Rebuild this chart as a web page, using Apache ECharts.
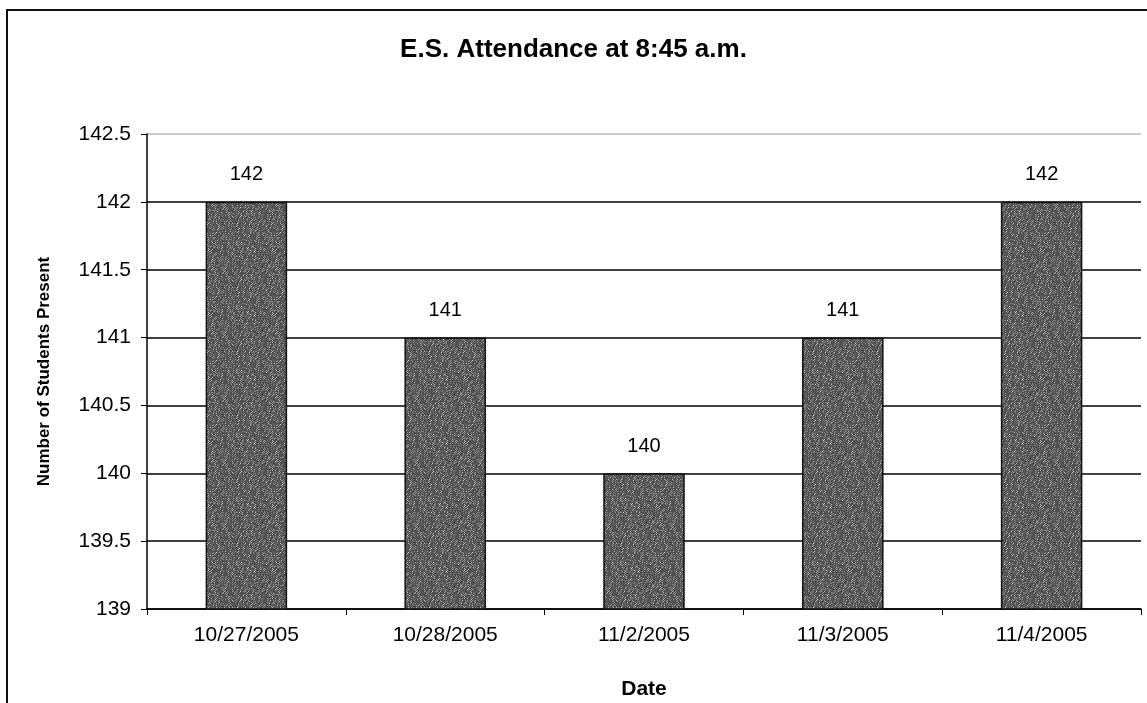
<!DOCTYPE html>
<html lang="en">
<head>
    <meta charset="UTF-8">
    <title>E.S. Attendance</title>
    <script src="https://cdn.jsdelivr.net/npm/echarts@6.0.0/dist/echarts.min.js"></script>
    <style>
        html, body { margin: 0; padding: 0; background: #fff; }
        #frame { position: absolute; left: 6px; top: 9px; width: 1150px; height: 720px; border: 2px solid #111; box-sizing: border-box; }
        #chart { position: absolute; left: 0; top: 0; width: 1147px; height: 703px; }
    </style>
</head>
<body>
    <div id="frame"></div>
    <div id="chart"></div>
    <script type="text/javascript">
        // Data
        const dates = ['10/27/2005', '10/28/2005', '11/2/2005', '11/3/2005', '11/4/2005'];
        const studentsPresent = [142, 141, 140, 141, 142];

        const chart = echarts.init(document.getElementById('chart'));
        const font = '"Liberation Sans", Arial, sans-serif';

        // speckled grey fill like the scanned bars (deterministic hash noise)
        function makeSpeckle() {
            const c = document.createElement('canvas');
            c.width = 64; c.height = 64;
            const ctx = c.getContext('2d');
            const img = ctx.createImageData(64, 64);
            for (let i = 0; i < 64 * 64; i++) {
                let h = (i * 2654435761) >>> 0;
                h = ((h ^ (h >>> 13)) * 1274126177) >>> 0;
                const r = (h & 255) / 255;
                const v = r < 0.5 ? 80 + r * 70 : 140 + (r - 0.5) * 170;
                img.data[i * 4] = img.data[i * 4 + 1] = img.data[i * 4 + 2] = v;
                img.data[i * 4 + 3] = 255;
            }
            ctx.putImageData(img, 0, 0);
            return c;
        }

        chart.setOption({
            backgroundColor: 'transparent',
            animation: false,
            title: {
                text: 'E.S. Attendance at 8:45 a.m.',
                left: 'center',
                top: 32,
                textStyle: { fontFamily: font, fontSize: 26, fontWeight: 'bold', color: '#000' }
            },
            grid: { left: 147, right: 6, top: 134, bottom: 94, outerBoundsMode: 'none' },
            xAxis: {
                type: 'category',
                data: dates,
                name: 'Date',
                nameLocation: 'middle',
                nameGap: 70,
                nameTextStyle: { fontFamily: font, fontSize: 21, fontWeight: 'bold', color: '#000' },
                axisLine: { lineStyle: { color: '#000', width: 1.5 } },
                axisTick: { show: true, alignWithLabel: false, length: 6, lineStyle: { color: '#000' } },
                axisLabel: { fontFamily: font, fontSize: 21, color: '#000', margin: 16 }
            },
            yAxis: {
                type: 'value',
                min: 139,
                max: 142.5,
                interval: 0.5,
                name: 'Number of Students Present',
                nameLocation: 'middle',
                nameGap: 94,
                nameTextStyle: { fontFamily: font, fontSize: 17, fontWeight: 'bold', color: '#000' },
                axisLine: { show: true, lineStyle: { color: '#000', width: 1.5 } },
                axisTick: { show: true, length: 6, lineStyle: { color: '#000' } },
                axisLabel: { fontFamily: font, fontSize: 21, color: '#000', margin: 16 },
                splitLine: {
                    show: true,
                    lineStyle: { color: ['#000', '#000', '#000', '#000', '#000', '#000', '#000', '#bbb'], width: 1.5 }
                }
            },
            series: [{
                type: 'bar',
                data: studentsPresent,
                barWidth: '41%',
                itemStyle: {
                    color: { image: makeSpeckle(), repeat: 'repeat' },
                    borderColor: '#111',
                    borderWidth: 1.5
                },
                label: {
                    show: true,
                    position: 'top',
                    distance: 17,
                    fontFamily: font,
                    fontSize: 20,
                    color: '#000'
                }
            }]
        });
    </script>
</body>
</html>
